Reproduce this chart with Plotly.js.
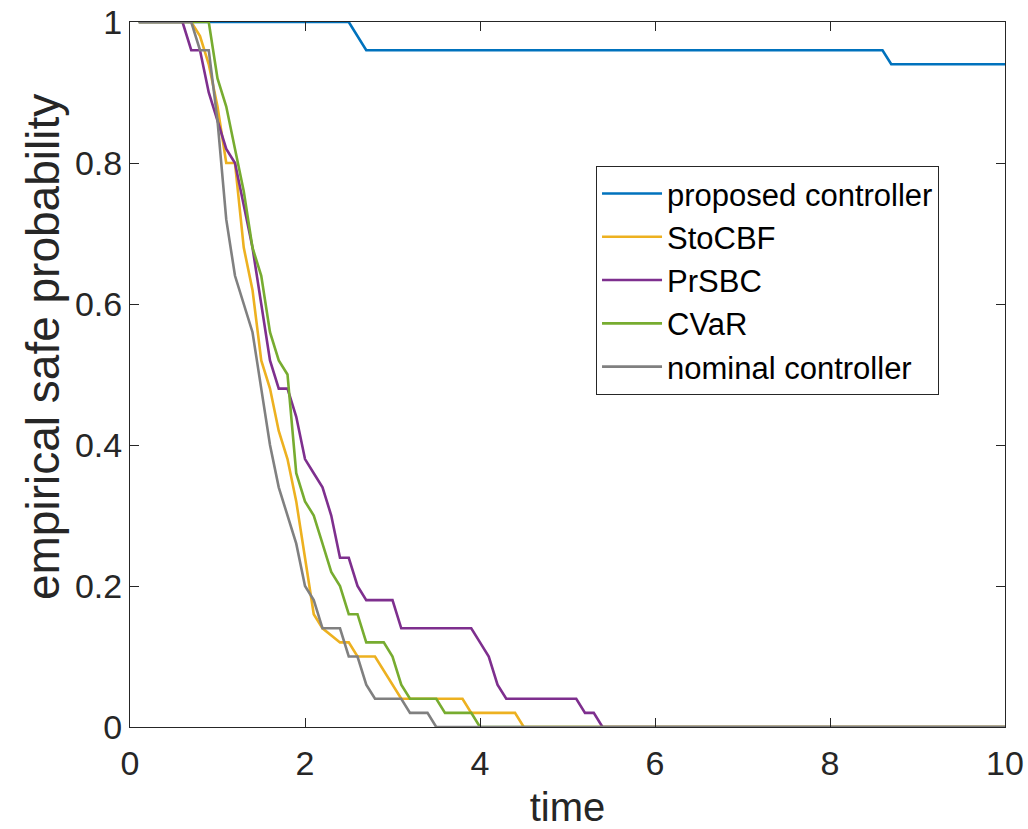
<!DOCTYPE html>
<html>
<head>
<meta charset="utf-8">
<script src="https://cdn.plot.ly/plotly-3.0.1.min.js"></script>
<style>html,body{margin:0;padding:0;background:#fff;}#chart{width:1028px;height:829px;}</style>
</head>
<body>
<div id="chart"></div>
<script>
// Series names
const seriesNames = ["proposed controller", "StoCBF", "PrSBC", "CVaR", "nominal controller"];

// Vertices (time, empirical safe probability)
const proposedT = [0.1, 2.5, 2.7, 8.6, 8.7, 10];
const proposedP = [1, 1, 0.96, 0.96, 0.94, 0.94];

const stocbfT = [0.1, 0.7, 0.8, 0.9, 1.0, 1.1, 1.2, 1.3, 1.4, 1.5, 1.6, 1.7, 1.8, 1.9, 2.0, 2.1, 2.2, 2.4, 2.5, 2.6, 2.8, 3.1, 3.8, 3.9, 4.4, 4.5, 10];
const stocbfP = [1, 1, 0.98, 0.94, 0.88, 0.80, 0.80, 0.68, 0.62, 0.52, 0.48, 0.42, 0.38, 0.32, 0.24, 0.16, 0.14, 0.12, 0.12, 0.10, 0.10, 0.04, 0.04, 0.02, 0.02, 0, 0];

const prsbcT = [0.1, 0.6, 0.7, 0.8, 0.9, 1.0, 1.1, 1.2, 1.3, 1.4, 1.5, 1.6, 1.7, 1.8, 1.9, 2.0, 2.1, 2.2, 2.3, 2.4, 2.5, 2.6, 2.7, 3.0, 3.1, 3.9, 4.0, 4.1, 4.2, 4.3, 5.1, 5.2, 5.3, 5.4, 10];
const prsbcP = [1, 1, 0.96, 0.96, 0.90, 0.86, 0.82, 0.80, 0.74, 0.68, 0.60, 0.52, 0.48, 0.48, 0.44, 0.38, 0.36, 0.34, 0.30, 0.24, 0.24, 0.20, 0.18, 0.18, 0.14, 0.14, 0.12, 0.10, 0.06, 0.04, 0.04, 0.02, 0.02, 0, 0];

const cvarT = [0.1, 0.9, 1.0, 1.1, 1.2, 1.3, 1.4, 1.5, 1.6, 1.7, 1.8, 1.9, 2.0, 2.1, 2.2, 2.3, 2.4, 2.5, 2.6, 2.7, 2.9, 3.0, 3.1, 3.2, 3.5, 3.6, 3.9, 4.0, 10];
const cvarP = [1, 1, 0.92, 0.88, 0.82, 0.76, 0.68, 0.64, 0.56, 0.52, 0.50, 0.36, 0.32, 0.30, 0.26, 0.22, 0.20, 0.16, 0.16, 0.12, 0.12, 0.10, 0.06, 0.04, 0.04, 0.02, 0.02, 0, 0];

const nominalT = [0.1, 0.7, 0.8, 0.9, 1.0, 1.1, 1.2, 1.3, 1.4, 1.5, 1.6, 1.7, 1.8, 1.9, 2.0, 2.1, 2.2, 2.4, 2.5, 2.6, 2.7, 2.8, 3.1, 3.2, 3.4, 3.5, 10];
const nominalP = [1, 1, 0.96, 0.96, 0.86, 0.72, 0.64, 0.60, 0.56, 0.48, 0.40, 0.34, 0.30, 0.26, 0.20, 0.18, 0.14, 0.14, 0.10, 0.10, 0.06, 0.04, 0.04, 0.02, 0.02, 0, 0];

const xTicks = [0, 2, 4, 6, 8, 10];
const yTicks = [0, 0.2, 0.4, 0.6, 0.8, 1];
const yTickText = ["0", "0.2", "0.4", "0.6", "0.8", "1"];

const colors = ["#0072BD", "#EDB120", "#7E2F8E", "#77AC30", "#808080"];
const seriesT = [proposedT, stocbfT, prsbcT, cvarT, nominalT];
const seriesP = [proposedP, stocbfP, prsbcP, cvarP, nominalP];

const traces = seriesNames.map((n, i) => ({
  x: seriesT[i], y: seriesP[i], name: n, type: "scatter", mode: "lines",
  line: {color: colors[i], width: 2.6}, hoverinfo: "skip"
}));

const axisColor = "#262626";
const fontFam = "Liberation Sans, Arial, Helvetica, sans-serif";

const layout = {
  width: 1028, height: 829,
  margin: {l: 130, r: 23, t: 22, b: 102, pad: 0},
  paper_bgcolor: "#fff", plot_bgcolor: "#fff",
  font: {family: fontFam, color: axisColor},
  showlegend: true,
  legend: {
    x: 0.5326, y: 0.796, xanchor: "left", yanchor: "top",
    bordercolor: axisColor, borderwidth: 1, bgcolor: "#fff",
    font: {size: 31, color: "#000", family: fontFam},
    tracegroupgap: 0, itemwidth: 60,
    entrywidthmode: "pixels", entrywidth: 305
  },
  xaxis: {
    range: [0, 10], tickvals: xTicks, ticktext: xTicks.map(String),
    ticks: "inside", ticklen: 9, tickwidth: 1, tickcolor: axisColor,
    showline: true, linecolor: axisColor, linewidth: 1, mirror: "ticks",
    showgrid: false, zeroline: false, ticklabelstandoff: 6,
    tickfont: {size: 34, color: axisColor, family: fontFam},
    title: {text: "time", font: {size: 40, color: axisColor, family: fontFam}, standoff: 14}
  },
  yaxis: {
    range: [0, 1], tickvals: yTicks, ticktext: yTickText,
    ticks: "inside", ticklen: 9, tickwidth: 1, tickcolor: axisColor,
    showline: true, linecolor: axisColor, linewidth: 1, mirror: "ticks",
    showgrid: false, zeroline: false,
    tickfont: {size: 34, color: axisColor, family: fontFam}
  },
  annotations: [{
    text: "empirical safe probability", textangle: -90,
    xref: "paper", yref: "paper", x: -0.0994, y: 0.539,
    xanchor: "center", yanchor: "middle", showarrow: false,
    font: {size: 46, color: axisColor, family: fontFam}
  }]
};

Plotly.newPlot("chart", traces, layout, {staticPlot: true, displayModeBar: false});
</script>
</body>
</html>
